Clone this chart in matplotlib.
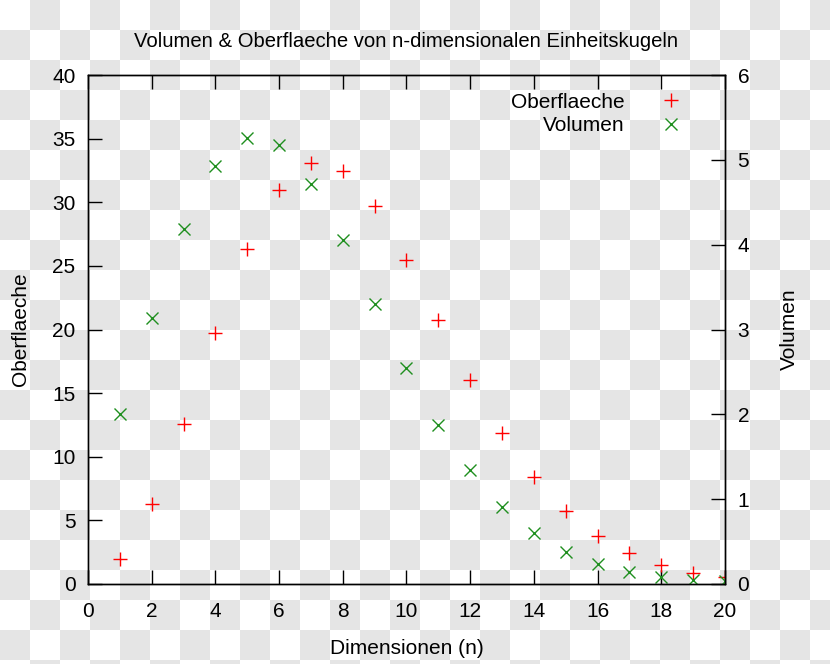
import matplotlib
matplotlib.use("Agg")
import matplotlib.pyplot as plt
import numpy as np

plt.rcParams['font.family'] = ['Liberation Sans', 'DejaVu Sans']

# Dimension n, surface and volume of the unit n-ball
dims = [1, 2, 3, 4, 5, 6, 7, 8, 9, 10, 11, 12, 13, 14, 15, 16, 17, 18, 19, 20]
oberflaeche = [2.0, 6.28, 12.57, 19.74, 26.32, 31.0, 33.07, 32.47, 29.69, 25.50,
               20.72, 16.0, 11.83, 8.40, 5.74, 3.78, 2.40, 1.47, 0.87, 0.51]
volumen = [2.0, 3.14, 4.19, 4.93, 5.26, 5.17, 4.72, 4.06, 3.30, 2.55,
           1.88, 1.34, 0.91, 0.60, 0.38, 0.24, 0.14, 0.08, 0.05, 0.03]

fig = plt.figure(figsize=(8.3, 6.64), dpi=100)

# faint checkerboard background like the reference
h, w = 664, 830
yy, xx = np.indices((h, w))
board = ((xx // 30 + yy // 30) % 2).astype(float)
rgb = np.ones((h, w, 3))
rgb[board == 1] = 0.9
fig.figimage(rgb, 0, 0, zorder=-10, origin='upper')

ax = fig.add_axes([0.106, 0.1205, 0.7675, 0.7665])
ax.patch.set_alpha(0)
ax2 = ax.twinx()
ax2.patch.set_alpha(0)

red = '#ff0000'
green = '#1f8f1f'
l1, = ax.plot(dims, oberflaeche, linestyle='none', marker='+', ms=9.5, mew=1.0,
              color=red, label='Oberflaeche')
l2, = ax2.plot(dims, volumen, linestyle='none', marker='x', ms=9, mew=1.0,
               color=green, label='Volumen')

ax.set_xlim(0, 20)
ax.set_ylim(0, 40)
ax2.set_ylim(0, 6)
ax.set_xticks(range(0, 21, 2))
ax.set_yticks(range(0, 41, 5))
ax2.set_yticks(range(0, 7))

for a in (ax, ax2):
    for s in a.spines.values():
        s.set_linewidth(1.0)
        s.set_color('black')

fs = 15
ax.tick_params(axis='x', direction='in', length=10, width=1, top=True, labelsize=fs, pad=13)
ax.tick_params(axis='y', direction='in', length=10, width=1, labelsize=fs, pad=9)
ax2.tick_params(axis='y', direction='in', length=10, width=1, labelsize=fs, pad=9)

ax.set_title('Volumen & Oberflaeche von n-dimensionalen Einheitskugeln', fontsize=14.6, pad=20)
ax.set_xlabel('Dimensionen (n)', fontsize=fs, labelpad=13)
ax.set_ylabel('Oberflaeche', fontsize=fs, labelpad=16)
ax2.set_ylabel('Volumen', fontsize=fs, labelpad=22)

ax2.legend([l1, l2], ['Oberflaeche', 'Volumen'], loc='upper right', frameon=False,
           markerfirst=False, fontsize=fs, handlelength=1.2, handletextpad=1.6,
           borderaxespad=0.45, labelspacing=0.22, bbox_to_anchor=(0.962, 1.0))

fig.savefig('out.png', dpi=100)
